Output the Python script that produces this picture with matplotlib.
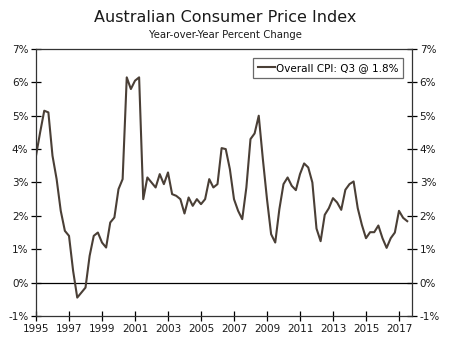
import matplotlib
matplotlib.use("Agg")
import matplotlib.pyplot as plt
import numpy as np

# quarterly year-over-year CPI, 1995 Q1 .. 2017 Q3
start_year = 1995
cpi = [
    3.8, 4.5, 5.15, 5.1,      # 1995
    3.8, 3.1, 2.15, 1.55,     # 1996
    1.4, 0.35, -0.45, -0.3,   # 1997
    -0.15, 0.8, 1.4, 1.5,     # 1998
    1.2, 1.05, 1.8, 1.95,     # 1999
    2.8, 3.1, 6.15, 5.8,      # 2000
    6.05, 6.15, 2.5, 3.15,    # 2001
    3.0, 2.85, 3.25, 2.95,    # 2002
    3.3, 2.65, 2.6, 2.5,      # 2003
    2.07, 2.55, 2.3, 2.5,     # 2004
    2.35, 2.5, 3.1, 2.85,     # 2005
    2.95, 4.03, 4.0, 3.4,     # 2006
    2.5, 2.15, 1.9, 2.85,     # 2007
    4.3, 4.47, 5.0, 3.7,      # 2008
    2.5, 1.45, 1.2, 2.2,      # 2009
    2.95, 3.15, 2.9, 2.77,    # 2010
    3.25, 3.57, 3.45, 3.0,    # 2011
    1.62, 1.24, 2.03, 2.23,   # 2012
    2.53, 2.4, 2.18, 2.78,    # 2013
    2.95, 3.03, 2.23, 1.73,   # 2014
    1.33, 1.51, 1.51, 1.71,   # 2015
    1.33, 1.04, 1.33, 1.5,    # 2016
    2.15, 1.94, 1.84,         # 2017
]
year_ticks = list(range(1995, 2018, 2))
pct_ticks = list(range(-1, 8))
legend_label = "Overall CPI: Q3 @ 1.8%"

dates = start_year + np.arange(len(cpi)) / 4.0

line_color = "#4a3f36"
text_color = "#1a1a1a"

fig = plt.figure(figsize=(4.5, 3.39), dpi=100)
ax = fig.add_axes([0.08, 0.068, 0.8356, 0.7875])

ax.plot(dates, cpi, color=line_color, lw=1.5, label=legend_label)
ax.axhline(0, color="black", lw=0.9, zorder=1)

ax.set_xlim(1995, 2017.79)
ax.set_ylim(-1, 7)
ax.set_xticks(year_ticks)
ax.set_xticklabels([str(y) for y in year_ticks], fontsize=7.5, color=text_color)
ax.set_yticks(pct_ticks)
ax.set_yticklabels([f"{v}%" for v in pct_ticks], fontsize=7.5, color=text_color)
ax.tick_params(axis="y", which="both", left=True, right=True, labelleft=True,
               labelright=True, direction="inout", length=7, width=0.9, pad=2)
ax.tick_params(axis="x", direction="inout", length=7, width=0.9, pad=2)

for side in ["left", "right", "top", "bottom"]:
    ax.spines[side].set_color("#333333")
    ax.spines[side].set_linewidth(0.9)

leg = ax.legend(loc="upper right", fontsize=7.5, frameon=True, fancybox=False,
                handlelength=1.6, handletextpad=0.1, borderpad=0.45,
                bbox_to_anchor=(0.99, 0.985))
leg.get_frame().set_edgecolor("#444444")
leg.get_frame().set_linewidth(0.9)

fig.text(0.5, 0.948, "Australian Consumer Price Index", ha="center", va="center",
         fontsize=11.5, color=text_color)
fig.text(0.5, 0.897, "Year-over-Year Percent Change", ha="center", va="center",
         fontsize=7.3, color=text_color)

fig.savefig("out.png", dpi=100)
